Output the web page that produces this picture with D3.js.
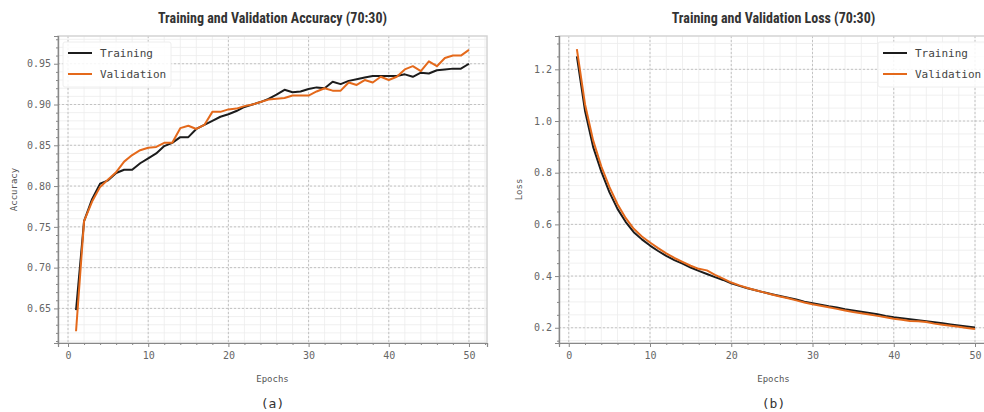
<!DOCTYPE html>
<html>
<head>
<meta charset="utf-8">
<script src="https://cdn.jsdelivr.net/npm/d3@7"></script>
<style>
  body { margin: 0; background: #fff; }
  svg text { fill: #555; }
</style>
</head>
<body>
<svg id="chart" width="984" height="412"></svg>
<script>
// epochs 1..50
var epochs = d3.range(1, 51);

var accTraining = [0.648, 0.757, 0.784, 0.803, 0.807, 0.816, 0.820, 0.820, 0.828, 0.834,
    0.840, 0.849, 0.853, 0.860, 0.860, 0.870, 0.875, 0.880, 0.885, 0.888,
    0.892, 0.897, 0.900, 0.903, 0.907, 0.912, 0.918, 0.915, 0.916, 0.919,
    0.921, 0.920, 0.928, 0.925, 0.929, 0.931, 0.933, 0.935, 0.935, 0.935,
    0.935, 0.937, 0.934, 0.939, 0.938, 0.942, 0.943, 0.944, 0.944, 0.950];

var accValidation = [0.622, 0.757, 0.781, 0.799, 0.808, 0.817, 0.830, 0.838, 0.844, 0.847,
    0.848, 0.853, 0.853, 0.871, 0.874, 0.870, 0.875, 0.891, 0.891, 0.894,
    0.895, 0.898, 0.900, 0.903, 0.906, 0.907, 0.908, 0.911, 0.911, 0.911,
    0.916, 0.920, 0.917, 0.917, 0.927, 0.924, 0.930, 0.927, 0.934, 0.930,
    0.934, 0.943, 0.947, 0.941, 0.953, 0.947, 0.957, 0.960, 0.960, 0.967];

var lossTraining = [1.250, 1.040, 0.900, 0.805, 0.725, 0.660, 0.610, 0.570, 0.542, 0.518,
    0.497, 0.478, 0.462, 0.448, 0.433, 0.420, 0.408, 0.396, 0.385, 0.372,
    0.362, 0.353, 0.345, 0.337, 0.330, 0.323, 0.316, 0.309, 0.301, 0.295,
    0.289, 0.283, 0.278, 0.272, 0.267, 0.262, 0.257, 0.252, 0.246, 0.241,
    0.237, 0.233, 0.229, 0.225, 0.221, 0.217, 0.213, 0.209, 0.205, 0.201];

var lossValidation = [1.278, 1.065, 0.925, 0.825, 0.745, 0.678, 0.625, 0.583, 0.553, 0.530,
    0.508, 0.488, 0.470, 0.455, 0.440, 0.428, 0.422, 0.405, 0.390, 0.375,
    0.364, 0.354, 0.345, 0.337, 0.329, 0.321, 0.314, 0.306, 0.298, 0.291,
    0.285, 0.279, 0.273, 0.267, 0.261, 0.256, 0.251, 0.246, 0.241, 0.235,
    0.231, 0.226, 0.225, 0.222, 0.216, 0.212, 0.208, 0.204, 0.199, 0.195];

var xTicks = [0, 10, 20, 30, 40, 50];
var accTicks = [0.65, 0.70, 0.75, 0.80, 0.85, 0.90, 0.95];
var lossTicks = [0.2, 0.4, 0.6, 0.8, 1.0, 1.2];
var seriesNames = ["Training", "Validation"];
var seriesColors = ["#1c1c1c", "#e4691b"];

var svg = d3.select("#chart");
var mono = "'DejaVu Sans Mono', monospace";

function drawPanel(opt) {
    var g = svg.append("g");
    var x = d3.scaleLinear().domain(opt.xDomain).range([opt.left, opt.right]);
    var y = d3.scaleLinear().domain(opt.yDomain).range([opt.bottom, opt.top]);

    // minor grid
    var xMinor = d3.range(0, 53, 2);
    var yMinor = d3.range(Math.ceil(opt.yDomain[0] / opt.yMinorStep), Math.floor(opt.yDomain[1] / opt.yMinorStep) + 1)
        .map(function(i) { return i * opt.yMinorStep; });

    g.selectAll(".vminor").data(xMinor).enter().append("line")
        .attr("x1", function(d) { return x(d); }).attr("x2", function(d) { return x(d); })
        .attr("y1", opt.top).attr("y2", opt.bottom)
        .attr("stroke", "#ececec").attr("stroke-width", 0.8);
    g.selectAll(".hminor").data(yMinor).enter().append("line")
        .attr("y1", function(d) { return y(d); }).attr("y2", function(d) { return y(d); })
        .attr("x1", opt.left).attr("x2", opt.right)
        .attr("stroke", "#ececec").attr("stroke-width", 0.8);

    // major grid
    g.selectAll(".vmajor").data(xTicks).enter().append("line")
        .attr("x1", function(d) { return x(d); }).attr("x2", function(d) { return x(d); })
        .attr("y1", opt.top).attr("y2", opt.bottom)
        .attr("stroke", "#bdbdbd").attr("stroke-width", 0.9).attr("stroke-dasharray", "2,2");
    g.selectAll(".hmajor").data(opt.yTicks).enter().append("line")
        .attr("y1", function(d) { return y(d); }).attr("y2", function(d) { return y(d); })
        .attr("x1", opt.left).attr("x2", opt.right)
        .attr("stroke", "#bdbdbd").attr("stroke-width", 0.9).attr("stroke-dasharray", "2,2");

    // frame
    g.append("rect")
        .attr("x", opt.left).attr("y", opt.top)
        .attr("width", opt.right - opt.left).attr("height", opt.bottom - opt.top)
        .attr("fill", "none").attr("stroke", "#d4d4d4").attr("stroke-width", 1.5);

    // axes
    var xAxis = g.append("g").attr("transform", "translate(0," + opt.bottom + ")")
        .call(d3.axisBottom(x).tickValues(xTicks).tickFormat(d3.format("d")).tickSizeOuter(0).tickSize(4).tickPadding(5));
    g.append("g").attr("transform", "translate(0," + opt.bottom + ")")
        .call(d3.axisBottom(x).tickValues(xMinor.filter(function(d) { return d % 10 != 0; }))
            .tickFormat("").tickSizeOuter(0).tickSize(2));
    var yAxis = g.append("g").attr("transform", "translate(" + opt.left + ",0)")
        .call(d3.axisLeft(y).tickValues(opt.yTicks).tickFormat(d3.format(opt.yFormat)).tickSizeOuter(0).tickSize(4).tickPadding(3));
    g.append("g").attr("transform", "translate(" + opt.left + ",0)")
        .call(d3.axisLeft(y).tickValues(yMinor.filter(function(d) {
            return !opt.yTicks.some(function(t) { return Math.abs(t - d) < 1e-6; });
        })).tickFormat("").tickSizeOuter(0).tickSize(2));

    g.selectAll(".domain").attr("stroke", "#888").attr("stroke-width", 1.2);
    g.selectAll(".tick line").attr("stroke", "#888");
    g.selectAll(".tick text").attr("font-family", mono).attr("font-size", 10).style("fill", "#666");

    // lines
    var line = d3.line()
        .x(function(d, i) { return x(epochs[i]); })
        .y(function(d) { return y(d); });

    opt.series.forEach(function(s, i) {
        g.append("path")
            .datum(s)
            .attr("fill", "none")
            .attr("stroke", seriesColors[i])
            .attr("stroke-width", 2)
            .attr("stroke-linejoin", "round")
            .attr("d", line);
    });

    // title
    g.append("text")
        .attr("x", (opt.left + opt.titleRight) / 2).attr("y", 23)
        .attr("text-anchor", "middle")
        .attr("font-family", "'Liberation Sans Narrow', 'Roboto Condensed', 'Liberation Sans', sans-serif")
        .attr("font-weight", "bold").attr("font-size", 14)
        .style("fill", "#333")
        .text(opt.title);

    // axis labels
    g.append("text")
        .attr("x", (opt.left + opt.titleRight) / 2).attr("y", 382)
        .attr("text-anchor", "middle")
        .attr("font-family", mono).attr("font-size", 9)
        .text("Epochs");
    g.append("text")
        .attr("transform", "translate(" + opt.yLabelX + "," + ((opt.top + opt.bottom) / 2) + ") rotate(-90)")
        .attr("text-anchor", "middle")
        .attr("font-family", mono).attr("font-size", 9)
        .text(opt.yLabel);

    // caption
    g.append("text")
        .attr("x", (opt.left + opt.titleRight) / 2).attr("y", 408)
        .attr("text-anchor", "middle")
        .attr("font-family", mono).attr("font-size", 13)
        .style("fill", "#333")
        .text(opt.caption);

    // legend
    var lg = g.append("g").attr("transform", "translate(" + opt.legendX + "," + opt.legendY + ")");
    lg.append("rect")
        .attr("width", 108).attr("height", 45).attr("rx", 2)
        .attr("fill", "#fff").attr("fill-opacity", 0.85)
        .attr("stroke", "#eeeeee");
    seriesNames.forEach(function(name, i) {
        lg.append("line")
            .attr("x1", 5).attr("x2", 29)
            .attr("y1", 11 + i * 21).attr("y2", 11 + i * 21)
            .attr("stroke", seriesColors[i]).attr("stroke-width", 2);
        lg.append("text")
            .attr("x", 37).attr("y", 15 + i * 21)
            .attr("font-family", mono).attr("font-size", 11)
            .style("fill", "#444")
            .text(name);
    });
}

drawPanel({
    left: 58, right: 487, top: 36, bottom: 343, titleRight: 487,
    xDomain: [-1.25, 52.25],
    yDomain: [0.6076, 0.984],
    yTicks: accTicks, yFormat: ".2f", yMinorStep: 0.01,
    series: [accTraining, accValidation],
    title: "Training and Validation Accuracy (70:30)",
    yLabel: "Accuracy", yLabelX: 17,
    caption: "(a)",
    legendX: 63, legendY: 42
});

drawPanel({
    left: 559, right: 988, top: 36, bottom: 343, titleRight: 988,
    xDomain: [-1.2, 51.6],
    yDomain: [0.141, 1.329],
    yTicks: lossTicks, yFormat: ".1f", yMinorStep: 0.05,
    series: [lossTraining, lossValidation],
    title: "Training and Validation Loss (70:30)",
    yLabel: "Loss", yLabelX: 522,
    caption: "(b)",
    legendX: 878, legendY: 42
});
</script>
</body>
</html>
